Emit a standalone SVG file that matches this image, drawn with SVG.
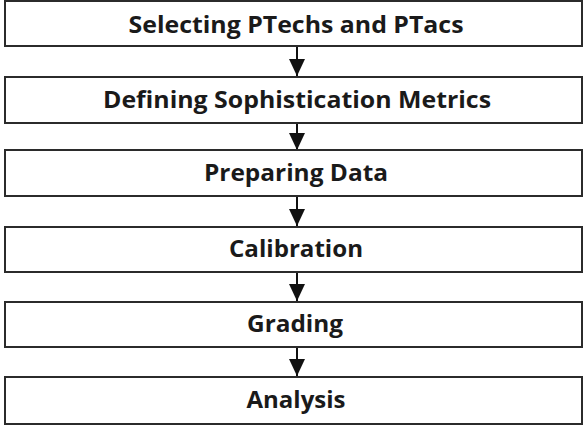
<svg xmlns="http://www.w3.org/2000/svg" width="584" height="428" viewBox="0 0 584 428">
<defs>
<style>
.box{fill:#fff;stroke:#2b2b2b;stroke-width:2}
.lbl{font-family:"Open Sans","Noto Sans","DejaVu Sans",sans-serif;font-weight:bold;font-size:24px;fill:#1a1a1a;text-anchor:middle}
.conn{stroke:#111;stroke-width:2;fill:none}
</style>
<marker id="ah" viewBox="0 0 17 16" refX="17" refY="8" markerWidth="17" markerHeight="16" markerUnits="userSpaceOnUse" orient="auto">
<path d="M0,0 L17,8 L0,16 Z" fill="#111"/>
</marker>
</defs>
<rect width="584" height="428" fill="#fff"/>
<g id="connectors">
<line class="conn" x1="297" y1="47" x2="297" y2="76" marker-end="url(#ah)"/>
<line class="conn" x1="297" y1="123" x2="297" y2="150" marker-end="url(#ah)"/>
<line class="conn" x1="297" y1="196" x2="297" y2="226" marker-end="url(#ah)"/>
<line class="conn" x1="297" y1="272" x2="297" y2="301" marker-end="url(#ah)"/>
<line class="conn" x1="297" y1="347" x2="297" y2="376" marker-end="url(#ah)"/>
</g>
<g id="n1"><rect class="box" x="5" y="1" width="577" height="45"/><text class="lbl" x="296" y="33" textLength="335" lengthAdjust="spacingAndGlyphs">Selecting PTechs and PTacs</text></g>
<g id="n2"><rect class="box" x="5" y="77" width="577" height="46"/><text class="lbl" x="297" y="108" textLength="388" lengthAdjust="spacingAndGlyphs">Defining Sophistication Metrics</text></g>
<g id="n3"><rect class="box" x="5" y="150" width="577" height="46"/><text class="lbl" x="296" y="181" textLength="184" lengthAdjust="spacingAndGlyphs">Preparing Data</text></g>
<g id="n4"><rect class="box" x="5" y="227" width="577" height="45"/><text class="lbl" x="296" y="257" textLength="134" lengthAdjust="spacingAndGlyphs">Calibration</text></g>
<g id="n5"><rect class="box" x="5" y="302" width="577" height="45"/><text class="lbl" x="295" y="332" textLength="96" lengthAdjust="spacingAndGlyphs">Grading</text></g>
<g id="n6"><rect class="box" x="5" y="377" width="577" height="47"/><text class="lbl" x="296" y="408" textLength="99" lengthAdjust="spacingAndGlyphs">Analysis</text></g>
</svg>
